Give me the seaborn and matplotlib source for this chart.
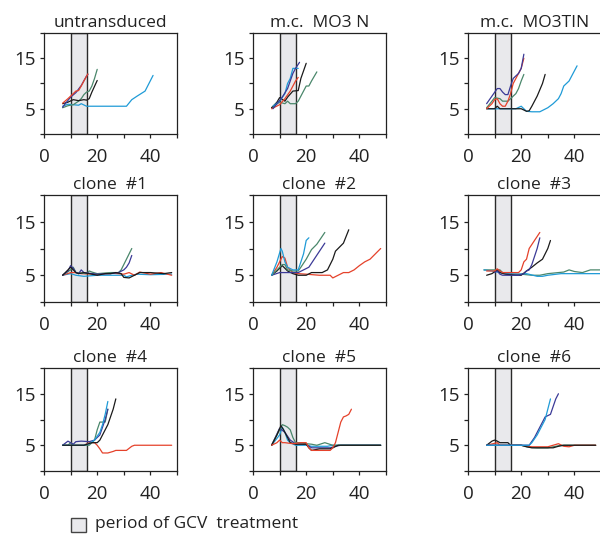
import pandas as pd
import matplotlib.pyplot as plt
import seaborn as sns
from matplotlib.patches import Rectangle

# line colours used in every panel
PALETTE = {
    "red": "#e5422b",
    "purple": "#3b3a97",
    "green": "#4a876b",
    "black": "#1a1a1a",
    "blue": "#1f9bd7",
}

# each panel: colour -> (days, values)
untransduced = {
    "blue": ([7, 9, 11, 13, 14, 16, 20, 25, 31, 33, 35, 38, 41],
             [5.5, 5.9, 5.8, 5.7, 6.0, 5.5, 5.5, 5.5, 5.5, 6.8, 7.5, 8.5, 11.6]),
    "green": ([7, 9, 11, 13, 14, 15, 16, 17, 18, 19, 20],
              [5.2, 5.6, 5.8, 6.5, 7.0, 7.8, 8.3, 8.5, 9.5, 11.0, 12.8]),
    "black": ([7, 9, 11, 13, 15, 16, 17, 18, 20],
              [6.0, 6.3, 6.8, 6.6, 6.8, 6.7, 7.0, 8.3, 10.6]),
    "purple": ([7, 8, 10, 12, 14, 16, 16.5],
               [5.3, 6.0, 7.3, 8.2, 9.6, 11.5, 11.8]),
    "red": ([7, 9, 10, 11, 12, 13, 14, 15, 16.5],
            [6.1, 7.0, 7.5, 8.0, 8.5, 8.6, 9.5, 10.5, 11.9]),
}

mc_mo3n = {
    "green": ([7, 10, 12, 13, 14, 16, 17, 18, 19, 20, 21, 22, 24],
              [5.2, 6.3, 6.0, 6.5, 6.0, 6.0, 6.5, 7.5, 8.5, 9.5, 9.5, 10.5, 12.3]),
    "black": ([7, 9, 10, 12, 13, 15, 17, 18, 19, 20],
              [5.2, 6.3, 7.2, 6.5, 7.3, 8.5, 8.6, 11.0, 12.5, 14.0]),
    "red": ([7, 10, 12, 14, 16, 17],
            [5.0, 5.8, 7.0, 8.5, 10.5, 11.2]),
    "blue": ([7.5, 10, 12, 13, 14, 15, 17],
             [5.5, 6.5, 8.0, 10.0, 11.0, 13.0, 13.0]),
    "purple": ([7.5, 9, 11, 13, 14, 15, 16, 17.5],
               [5.0, 6.0, 7.3, 9.0, 10.5, 12.0, 13.0, 14.2]),
}

mc_mo3tin = {
    "blue": ([7, 18, 20, 21, 22, 24, 27, 30, 32, 34, 35, 36, 38, 39, 41],
             [5.0, 5.0, 5.5, 5.0, 4.5, 4.4, 4.4, 5.2, 6.0, 7.0, 8.0, 9.5, 10.5, 11.5, 13.5]),
    "black": ([7, 10, 11, 12, 20, 22, 23, 24, 26, 28, 29],
              [5.0, 5.0, 5.5, 5.0, 5.0, 4.5, 4.6, 5.5, 7.5, 10.0, 11.8]),
    "green": ([7, 9, 10, 12, 13, 15, 16, 17, 18, 19, 20, 21],
              [5.2, 6.5, 7.2, 7.0, 6.5, 6.5, 7.0, 7.5, 8.0, 9.0, 10.5, 11.8]),
    "red": ([7, 9, 10, 11, 12, 13, 14, 15, 16, 17, 18, 19, 20, 21],
            [5.0, 6.0, 6.8, 7.0, 6.0, 5.5, 5.5, 6.5, 8.0, 10.0, 11.0, 12.0, 13.0, 15.0]),
    "purple": ([7, 9, 11, 12, 13, 14, 15, 16, 17, 19, 20, 21],
               [6.0, 7.5, 9.0, 9.0, 8.3, 7.8, 7.8, 9.5, 11.0, 12.0, 13.0, 15.8]),
}

clone_1 = {
    "blue": ([7, 10, 12, 15, 20, 25, 30, 31, 33, 35, 40, 48],
             [5.0, 5.3, 5.0, 4.8, 5.0, 5.0, 5.0, 4.7, 5.0, 5.2, 5.1, 5.2]),
    "red": ([7, 10, 12, 14, 20, 25, 28, 30, 32, 34, 36, 40, 44, 48],
            [5.0, 5.5, 5.5, 5.3, 5.2, 5.4, 5.3, 5.2, 5.5, 5.0, 5.6, 5.2, 5.5, 5.0]),
    "green": ([7, 10, 11, 12, 16, 17, 18, 20, 25, 28, 29, 30, 31, 33],
              [5.0, 6.0, 6.5, 5.5, 5.3, 5.8, 5.6, 5.3, 5.5, 5.5, 6.0, 7.0, 8.0, 10.0]),
    "purple": ([7, 9, 10, 11, 12, 13, 14, 15, 20, 25, 28, 30, 31, 32, 33],
               [5.0, 5.8, 6.8, 6.3, 5.5, 5.3, 6.0, 5.5, 5.2, 5.3, 5.5, 6.0, 6.5, 7.3, 8.7]),
    "black": ([7, 9, 10, 11, 12, 13, 15, 17, 20, 23, 25, 27, 29, 30, 32, 34, 36, 40, 45, 48],
              [5.0, 6.0, 6.5, 6.0, 5.5, 5.3, 5.5, 5.3, 5.0, 5.3, 5.3, 5.5, 5.3, 4.6, 4.5, 5.0, 5.5, 5.5, 5.3, 5.5]),
}

clone_2 = {
    "red": ([7, 9, 11, 12, 13, 15, 17, 20, 25, 29, 30, 32, 34, 36, 38, 40, 42, 44, 46, 48],
            [5.0, 6.5, 8.5, 8.2, 6.5, 5.5, 5.3, 5.2, 5.0, 5.0, 4.5, 5.0, 5.5, 5.5, 6.0, 6.8, 7.5, 8.0, 9.0, 10.0]),
    "black": ([7, 9, 11, 12, 13, 15, 17, 20, 22, 26, 28, 30, 31, 32, 34, 36],
              [5.0, 5.8, 6.8, 6.3, 5.8, 5.3, 5.0, 5.0, 5.5, 5.5, 6.0, 8.0, 9.5, 10.0, 11.0, 13.5]),
    "purple": ([7, 10, 13, 17, 19, 21, 23, 25, 27],
               [5.0, 5.5, 5.5, 5.5, 6.0, 6.5, 8.0, 9.5, 11.0]),
    "green": ([7, 9, 11, 12, 13, 15, 17, 18, 20, 22, 24, 27],
              [5.0, 6.0, 7.0, 7.0, 6.0, 5.8, 5.8, 6.5, 8.0, 9.8, 10.8, 13.0]),
    "blue": ([7, 9, 10.5, 11, 12, 13, 15, 17, 18, 19, 20, 21],
             [5.0, 7.5, 10.0, 9.5, 7.5, 6.5, 6.0, 6.0, 7.5, 9.0, 11.5, 12.0]),
}

clone_3 = {
    "green": ([6, 10, 12, 13, 16, 20, 24, 27, 30, 34, 36, 38, 40, 43, 46, 50],
              [6.0, 6.0, 6.0, 5.5, 5.2, 5.2, 5.0, 5.0, 5.3, 5.5, 5.6, 6.0, 5.7, 5.5, 6.0, 6.0]),
    "blue": ([6, 9, 12, 15, 19, 22, 26, 28, 30, 35, 40, 45, 50],
             [6.0, 5.8, 5.5, 5.3, 5.2, 5.3, 4.8, 4.8, 5.0, 5.3, 5.3, 5.3, 5.3]),
    "black": ([7, 9, 11, 12, 14, 18, 20, 22, 24, 26, 28, 29, 30, 31],
              [5.0, 5.3, 6.0, 5.5, 5.2, 5.0, 5.0, 5.8, 6.5, 7.3, 8.0, 9.0, 10.0, 11.5]),
    "purple": ([10, 11, 12, 13, 19, 21, 22, 23, 24, 25, 26, 27],
               [5.5, 5.8, 5.2, 5.0, 5.0, 5.3, 5.8, 6.0, 7.0, 8.5, 10.0, 12.0]),
    "red": ([7, 10, 11, 12, 13, 19, 20, 21, 22, 23, 25, 27],
            [5.8, 5.8, 6.2, 5.8, 5.5, 5.5, 6.0, 7.5, 8.0, 10.0, 11.5, 13.0]),
}

clone_4 = {
    "red": ([7, 10, 15, 17, 19, 20, 21, 22, 24, 26, 27, 31, 33, 34, 40, 48],
            [5.0, 5.0, 5.0, 5.5, 5.5, 5.0, 4.3, 3.5, 3.5, 3.8, 4.0, 4.0, 4.8, 5.0, 5.0, 5.0]),
    "green": ([7, 9, 10, 11, 17, 19, 20, 21, 23, 24],
              [5.0, 5.0, 5.5, 5.0, 5.0, 6.0, 8.0, 9.5, 9.5, 12.0]),
    "purple": ([7, 9, 10, 11, 12, 14, 17, 19, 21, 22, 23, 24],
               [5.0, 5.8, 5.5, 5.2, 5.7, 5.8, 5.7, 6.0, 7.0, 8.5, 10.0, 12.0]),
    "blue": ([7, 15, 17, 19, 21, 22, 23, 24],
             [5.0, 5.0, 5.3, 6.0, 7.5, 9.0, 11.0, 13.5]),
    "black": ([7, 15, 18, 20, 21, 22, 24, 26, 27],
              [5.0, 5.0, 5.5, 5.5, 6.0, 7.0, 9.0, 12.0, 14.0]),
}

clone_5 = {
    "blue": ([7, 10, 11, 12, 13, 14, 16, 20, 22, 28, 30, 48],
             [5.0, 7.0, 8.5, 7.5, 6.0, 5.5, 5.0, 5.0, 4.8, 4.8, 5.0, 5.0]),
    "purple": ([7, 10, 12, 14, 16, 20, 22, 24, 29, 31, 33, 48],
               [5.0, 8.3, 7.5, 6.0, 5.3, 5.2, 4.5, 4.5, 4.5, 4.8, 5.0, 5.0]),
    "green": ([7, 9, 10.5, 11, 12, 13, 14, 15, 16, 18, 20, 22, 24, 27, 30, 32, 35, 40, 48],
              [5.0, 7.0, 8.5, 9.0, 8.8, 8.5, 8.0, 6.5, 5.5, 5.5, 5.3, 5.2, 5.0, 5.5, 5.0, 5.0, 5.0, 5.0, 5.0]),
    "black": ([7, 9, 10.5, 11.5, 13, 14, 16, 20, 21, 22, 25, 29, 30, 32, 40, 48],
              [5.0, 7.0, 8.8, 8.0, 6.5, 5.5, 5.2, 5.2, 4.5, 4.0, 4.3, 4.3, 4.5, 5.0, 5.0, 5.0]),
    "red": ([7, 9, 10, 11, 12, 15, 18, 20, 21, 22, 25, 28, 29, 30, 31, 32, 33, 34, 35, 36, 37],
            [5.0, 5.5, 6.0, 5.5, 5.5, 5.3, 5.5, 5.5, 4.5, 4.0, 4.0, 4.0, 4.0, 4.5, 5.5, 7.5, 9.5, 10.5, 10.7, 11.0, 12.0]),
}

clone_6 = {
    "green": ([7, 20, 23, 26, 30, 33, 35, 48],
              [5.0, 5.0, 4.6, 4.5, 4.5, 4.8, 5.0, 5.0]),
    "red": ([7, 11, 12, 20, 24, 30, 32, 34, 36, 38, 40, 48],
            [5.0, 5.5, 5.0, 5.0, 4.7, 4.7, 5.0, 5.3, 4.8, 4.7, 5.0, 5.0]),
    "black": ([7, 9, 10, 11, 12, 15, 16, 20, 22, 24, 28, 32, 34, 36, 40, 48],
              [5.0, 5.8, 6.0, 5.8, 5.5, 5.5, 5.0, 5.0, 4.7, 4.5, 4.5, 4.5, 4.8, 5.0, 5.0, 5.0]),
    "purple": ([7, 12, 20, 23, 25, 27, 29, 31, 33, 34],
               [5.0, 5.0, 5.0, 5.0, 6.5, 8.5, 10.5, 11.0, 14.0, 15.0]),
    "blue": ([7, 12, 20, 23, 24, 26, 28, 29, 30, 31],
             [5.0, 5.0, 5.0, 5.0, 5.5, 7.0, 9.0, 10.0, 12.0, 14.0]),
}

titles = ["untransduced", "m.c.  MO3 N", "m.c.  MO3TIN",
          "clone  #1", "clone  #2", "clone  #3",
          "clone  #4", "clone  #5", "clone  #6"]
panels = [untransduced, mc_mo3n, mc_mo3tin,
          clone_1, clone_2, clone_3,
          clone_4, clone_5, clone_6]

gcv_start, gcv_end = 10, 16
x_ticks = [0, 10, 20, 30, 40, 50]
x_labels = ["0", "", "20", "", "40", ""]
y_ticks = [0, 5, 10, 15, 20]
y_labels = ["", "5", "", "15", ""]

sns.set_theme(style="ticks")
plt.rcParams["font.family"] = ["Open Sans", "DejaVu Sans"]

fig = plt.figure(figsize=(6.0, 5.34), dpi=100)

W, H = 600, 534
col_left = [44, 253, 468]
row_box = [(33, 134), (195, 302), (368, 471)]  # top, bottom in px
panel_w = 133

for i, (title, series) in enumerate(zip(titles, panels)):
    r, c = divmod(i, 3)
    top, bottom = row_box[r]
    ax = fig.add_axes([col_left[c] / W, (H - bottom) / H,
                       panel_w / W, (bottom - top) / H])

    rows = []
    for name, (days, vals) in series.items():
        for d, v in zip(days, vals):
            rows.append({"day": d, "value": v, "line": name})
    df = pd.DataFrame(rows)

    ax.axvspan(gcv_start, gcv_end, facecolor="#e9e9ec", edgecolor="#2a2a2a",
               linewidth=1.0, zorder=0)
    sns.lineplot(data=df, x="day", y="value", hue="line", palette=PALETTE,
                 estimator=None, sort=False, legend=False, linewidth=0.9, ax=ax)

    ax.set_xlim(0, 50)
    ax.set_ylim(0, 20)
    ax.set_xticks(x_ticks)
    ax.set_xticklabels(x_labels)
    ax.set_yticks(y_ticks)
    ax.set_yticklabels(y_labels)
    ax.tick_params(axis="both", length=3, width=0.9, labelsize=13.5, colors="#222")
    ax.tick_params(axis="x", pad=7)
    ax.tick_params(axis="y", pad=3)
    ax.set_xlabel("")
    ax.set_ylabel("")
    ax.set_title(title, fontsize=12.5, pad=4, color="#222")
    for s in ax.spines.values():
        s.set_visible(True)
        s.set_linewidth(0.9)
        s.set_color("#222")

# legend for the shaded GCV window
fig.patches.append(Rectangle((71 / W, (H - 532) / H), 15 / W, 14 / H,
                             transform=fig.transFigure, facecolor="#e9e9ec",
                             edgecolor="#444", linewidth=1.0))
fig.text(95 / W, (H - 524) / H, "period of GCV  treatment", fontsize=12.5,
         va="center", ha="left", color="#222")

fig.savefig("out.png", dpi=100)
